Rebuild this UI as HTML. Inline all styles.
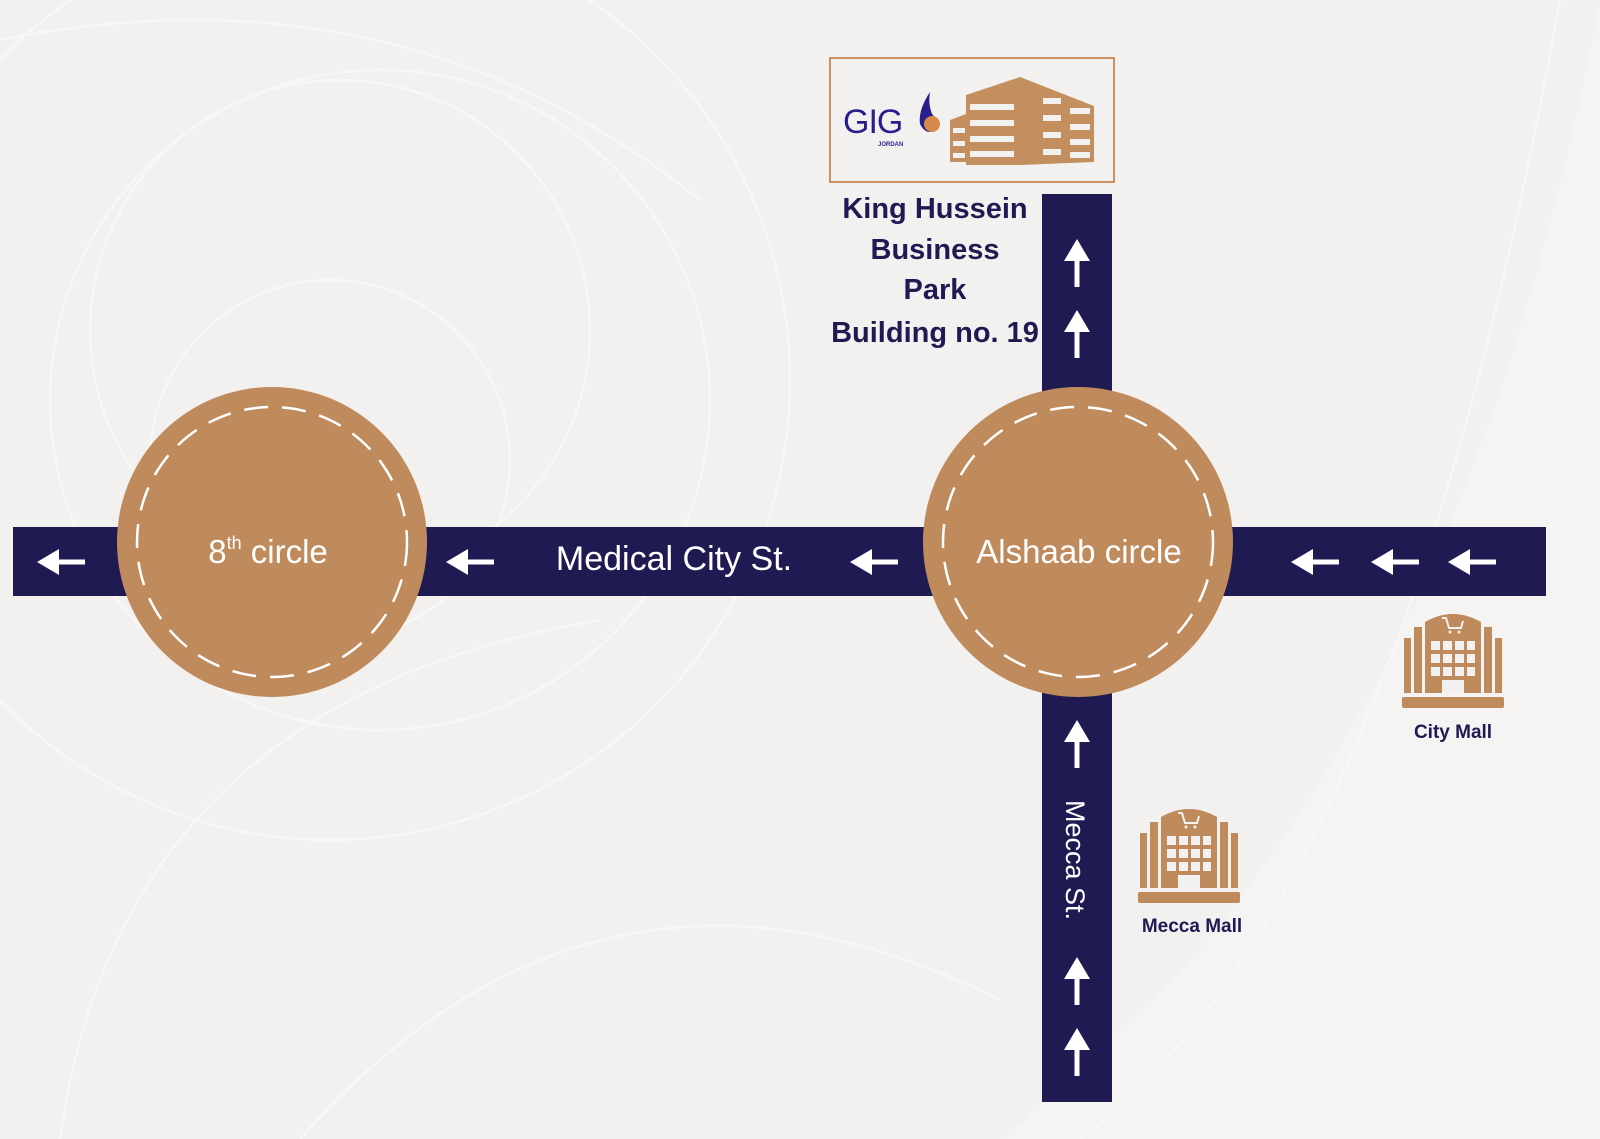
<!DOCTYPE html>
<html><head><meta charset="utf-8"><style>
html,body{margin:0;padding:0;width:1600px;height:1139px;overflow:hidden;background:#f2f1f0}
svg{display:block}
</style></head><body>
<svg width="1600" height="1139" viewBox="0 0 1600 1139" xmlns="http://www.w3.org/2000/svg" font-family="'Liberation Sans', sans-serif">
<defs>
<g id="arrL"><polygon points="-24,0 -2,-13 -2,13" fill="#fff"/><rect x="-4" y="-2.5" width="28" height="5" fill="#fff"/></g>
<g id="arrU"><polygon points="0,-24 -13,-2 13,-2" fill="#fff"/><rect x="-2.5" y="-4" width="5" height="28" fill="#fff"/></g>
<g id="mall" fill="#bf8a5c">
<rect x="0" y="87" width="102" height="11" rx="2"/>
<rect x="2" y="28" width="7" height="55"/><rect x="12" y="17" width="8" height="66"/>
<rect x="93" y="28" width="7" height="55"/><rect x="82" y="17" width="8" height="66"/>
<path d="M23 83 V12 Q51 -4 79 12 V83 Z"/>
<g fill="#f2f1f0"><rect x="29" y="31" width="9" height="9"/><rect x="41" y="31" width="9" height="9"/><rect x="53" y="31" width="9" height="9"/><rect x="65" y="31" width="8" height="9"/>
<rect x="29" y="44" width="9" height="9"/><rect x="41" y="44" width="9" height="9"/><rect x="53" y="44" width="9" height="9"/><rect x="65" y="44" width="8" height="9"/>
<rect x="29" y="57" width="9" height="9"/><rect x="41" y="57" width="9" height="9"/><rect x="53" y="57" width="9" height="9"/><rect x="65" y="57" width="8" height="9"/>
<rect x="40" y="70" width="22" height="13"/>
<path d="M40 8 h4 l3 10 h12 l2 -7" fill="none" stroke="#f2f1f0" stroke-width="2"/><circle cx="48" cy="22" r="1.5"/><circle cx="57" cy="22" r="1.5"/></g>
</g>
</defs>
<path d="M1000 1139 Q1450 800 1600 0 V1139Z" fill="#f5f4f3"/>
<g fill="none" stroke="#f8f7f6" stroke-width="2.5">
<circle cx="330" cy="380" r="460"/><circle cx="380" cy="400" r="330"/><circle cx="340" cy="330" r="250"/>
<circle cx="330" cy="460" r="180"/><path d="M0 40 Q400 -40 700 200"/><path d="M60 1139 Q120 700 600 620"/>
<path d="M1080 1139 Q1400 900 1560 0"/><path d="M300 1139 Q600 800 1000 1000"/>
</g>
<!-- roads -->
<rect x="13" y="527" width="1533" height="69" fill="#201a52"/>
<rect x="1042" y="194" width="70" height="908" fill="#201a52"/>
<!-- circles -->
<circle cx="272" cy="542" r="155" fill="#bf8a5c"/>
<circle cx="272" cy="542" r="135" fill="none" stroke="#fff" stroke-width="2.5" stroke-dasharray="24 14"/>
<circle cx="1078" cy="542" r="155" fill="#bf8a5c"/>
<circle cx="1078" cy="542" r="135" fill="none" stroke="#fff" stroke-width="2.5" stroke-dasharray="24 14"/>
<text x="268" y="563" font-size="33" fill="#fff" text-anchor="middle">8<tspan font-size="18" dy="-14">th</tspan><tspan dy="14"> circle</tspan></text>
<text x="1079" y="563" font-size="33" fill="#fff" text-anchor="middle">Alshaab circle</text>
<text x="674" y="570" font-size="34" fill="#fff" text-anchor="middle">Medical City St.</text>
<text transform="translate(1066,860) rotate(90)" font-size="27" fill="#fff" text-anchor="middle">Mecca St.</text>
<!-- arrows -->
<use href="#arrL" x="61" y="562"/><use href="#arrL" x="470" y="562"/><use href="#arrL" x="874" y="562"/>
<use href="#arrL" x="1315" y="562"/><use href="#arrL" x="1395" y="562"/><use href="#arrL" x="1472" y="562"/>
<use href="#arrU" x="1077" y="263"/><use href="#arrU" x="1077" y="334"/><use href="#arrU" x="1077" y="744"/>
<use href="#arrU" x="1077" y="981"/><use href="#arrU" x="1077" y="1052"/>
<!-- logo box -->
<rect x="830" y="58" width="284" height="124" fill="#f2f1f0" stroke="#c8935f" stroke-width="2"/>
<text x="843" y="133" font-size="34" fill="#2a1f8a" letter-spacing="-1">GIG</text>
<text x="878" y="146" font-size="6" font-weight="bold" fill="#2a1f8a">JORDAN</text>
<path d="M930 92 Q918 110 920 124 Q926 136 936 130 Q940 122 932 114 Q928 104 930 92Z" fill="#2a1f8a"/>
<circle cx="932" cy="124" r="8" fill="#d68a4a"/>
<g fill="#c38f5f">
<polygon points="950,120 966,114 966,162 950,162"/>
<polygon points="966,95 1020,77 1020,165 966,165"/>
<polygon points="1020,77 1094,106 1094,162 1020,165"/>
</g>
<g fill="#f2f1f0">
<rect x="953" y="128" width="12" height="5"/><rect x="953" y="141" width="12" height="5"/><rect x="953" y="153" width="12" height="5"/>
<rect x="970" y="104" width="44" height="6"/><rect x="970" y="120" width="44" height="6"/><rect x="970" y="136" width="44" height="6"/><rect x="970" y="151" width="44" height="6"/>
<rect x="1043" y="98" width="18" height="6"/><rect x="1043" y="115" width="18" height="6"/><rect x="1043" y="132" width="18" height="6"/><rect x="1043" y="149" width="18" height="6"/>
<rect x="1070" y="108" width="20" height="6"/><rect x="1070" y="124" width="20" height="6"/><rect x="1070" y="139" width="20" height="6"/><rect x="1070" y="152" width="20" height="6"/>
</g>
<g font-size="29" font-weight="bold" fill="#201a52" text-anchor="middle">
<text x="935" y="218">King Hussein</text>
<text x="935" y="259">Business</text>
<text x="935" y="299">Park</text>
<text x="935" y="342">Building no. 19</text>
</g>
<!-- malls -->
<use href="#mall" x="1402" y="610"/>
<text x="1453" y="738" font-size="19" font-weight="bold" fill="#201a52" text-anchor="middle">City Mall</text>
<use href="#mall" x="1138" y="805"/>
<text x="1192" y="932" font-size="19" font-weight="bold" fill="#201a52" text-anchor="middle">Mecca Mall</text>
</svg>
</body></html>
